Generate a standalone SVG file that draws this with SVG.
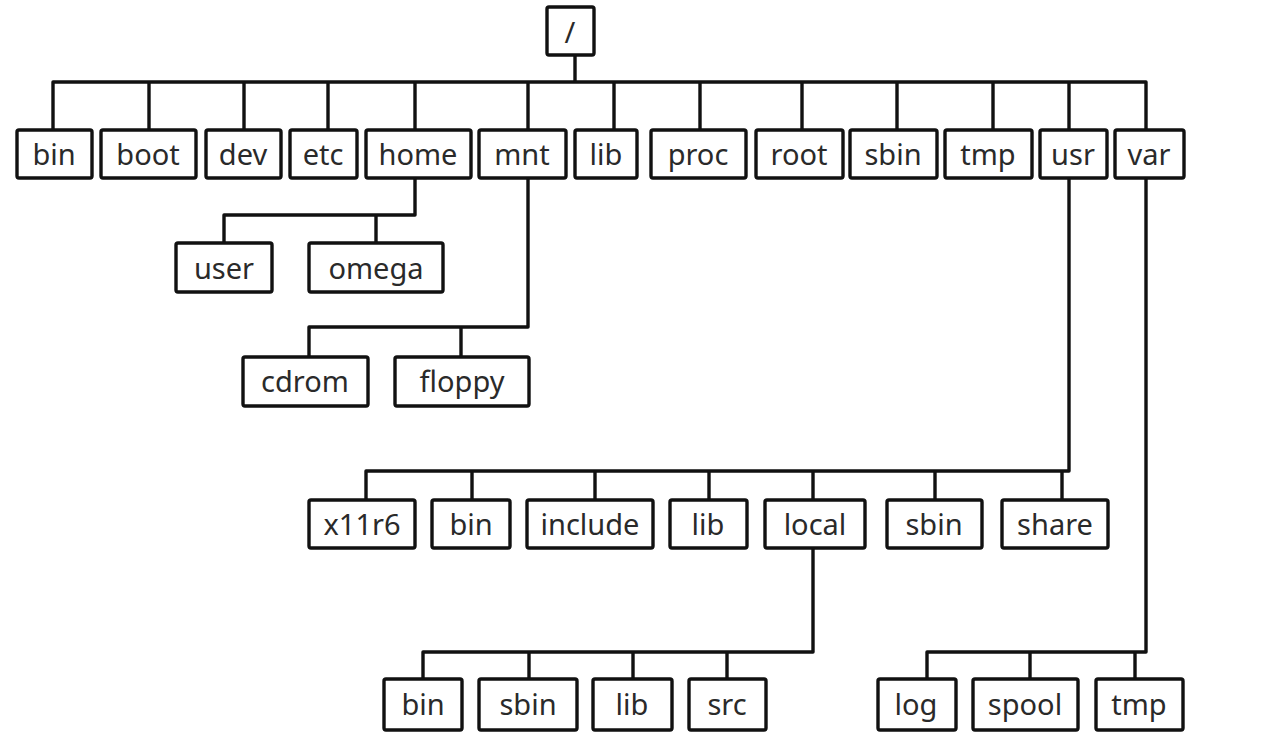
<svg xmlns="http://www.w3.org/2000/svg" width="1280" height="749" viewBox="0 0 1280 749">
<style>
.n rect{fill:#fff;stroke:#111;stroke-width:3.4;}
.n text{font-family:"Noto Sans","Open Sans","Liberation Sans",sans-serif;font-size:29px;fill:#2a2a2a;text-anchor:middle;}
#connectors path{fill:none;stroke:#111;stroke-width:3.4;stroke-linejoin:round;}
</style>
<rect width="1280" height="749" fill="#fff"/>
<g id="connectors">
<path d="M575 55V82M53 130V82H1146V130M149 82V130M244 82V130M328 82V130M415 82V130M528 82V130M614 82V130M700 82V130M802 82V130M897 82V130M993 82V130M1069 82V130"/>
<path d="M415 178V215H224V243M376 215V243"/>
<path d="M528 178V327H309V357M461 327V357"/>
<path d="M1069 178V471H366V500M472 471V500M595 471V500M709 471V500M813 471V500M935 471V500M1062 471V500"/>
<path d="M813 548V652H423V679M529 652V679M633 652V679M727 652V679"/>
<path d="M1146 178V652H927V679M1030 652V679M1135 652V679"/>
</g>
<g id="root" class="n"><rect x="547" y="7" width="47" height="48" rx="2"/><text x="570" y="43">/</text></g>
<g id="bin" class="n"><rect x="17" y="130" width="75" height="48" rx="2"/><text x="54" y="165">bin</text></g>
<g id="boot" class="n"><rect x="101" y="130" width="95" height="48" rx="2"/><text x="148" y="165">boot</text></g>
<g id="dev" class="n"><rect x="206" y="130" width="75" height="48" rx="2"/><text x="243" y="165">dev</text></g>
<g id="etc" class="n"><rect x="290" y="130" width="67" height="48" rx="2"/><text x="323" y="165">etc</text></g>
<g id="home" class="n"><rect x="366" y="130" width="105" height="48" rx="2"/><text x="418" y="165">home</text></g>
<g id="mnt" class="n"><rect x="479" y="130" width="87" height="48" rx="2"/><text x="522" y="165">mnt</text></g>
<g id="lib" class="n"><rect x="575" y="130" width="62" height="48" rx="2"/><text x="606" y="165">lib</text></g>
<g id="proc" class="n"><rect x="651" y="130" width="95" height="48" rx="2"/><text x="698" y="165">proc</text></g>
<g id="rootdir" class="n"><rect x="756" y="130" width="87" height="48" rx="2"/><text x="799" y="165">root</text></g>
<g id="sbin" class="n"><rect x="850" y="130" width="87" height="48" rx="2"/><text x="893" y="165">sbin</text></g>
<g id="tmp" class="n"><rect x="945" y="130" width="87" height="48" rx="2"/><text x="988" y="165">tmp</text></g>
<g id="usr" class="n"><rect x="1040" y="130" width="67" height="48" rx="2"/><text x="1073" y="165">usr</text></g>
<g id="var" class="n"><rect x="1115" y="130" width="69" height="48" rx="2"/><text x="1149" y="165">var</text></g>
<g id="user" class="n"><rect x="176" y="243" width="96" height="49" rx="2"/><text x="224" y="279">user</text></g>
<g id="omega" class="n"><rect x="309" y="243" width="134" height="49" rx="2"/><text x="376" y="279">omega</text></g>
<g id="cdrom" class="n"><rect x="243" y="357" width="125" height="49" rx="2"/><text x="305" y="392">cdrom</text></g>
<g id="floppy" class="n"><rect x="395" y="357" width="134" height="49" rx="2"/><text x="462" y="392">floppy</text></g>
<g id="x11r6" class="n"><rect x="309" y="500" width="106" height="48" rx="2"/><text x="362" y="535">x11r6</text></g>
<g id="usr-bin" class="n"><rect x="432" y="500" width="78" height="48" rx="2"/><text x="471" y="535">bin</text></g>
<g id="include" class="n"><rect x="527" y="500" width="126" height="48" rx="2"/><text x="590" y="535">include</text></g>
<g id="usr-lib" class="n"><rect x="670" y="500" width="77" height="48" rx="2"/><text x="708" y="535">lib</text></g>
<g id="local" class="n"><rect x="765" y="500" width="100" height="48" rx="2"/><text x="815" y="535">local</text></g>
<g id="usr-sbin" class="n"><rect x="887" y="500" width="95" height="48" rx="2"/><text x="934" y="535">sbin</text></g>
<g id="share" class="n"><rect x="1002" y="500" width="106" height="48" rx="2"/><text x="1055" y="535">share</text></g>
<g id="local-bin" class="n"><rect x="384" y="679" width="78" height="51" rx="2"/><text x="423" y="715">bin</text></g>
<g id="local-sbin" class="n"><rect x="479" y="679" width="98" height="51" rx="2"/><text x="528" y="715">sbin</text></g>
<g id="local-lib" class="n"><rect x="593" y="679" width="79" height="51" rx="2"/><text x="632" y="715">lib</text></g>
<g id="src" class="n"><rect x="689" y="679" width="77" height="51" rx="2"/><text x="727" y="715">src</text></g>
<g id="log" class="n"><rect x="878" y="679" width="78" height="51" rx="2"/><text x="916" y="715">log</text></g>
<g id="spool" class="n"><rect x="973" y="679" width="105" height="51" rx="2"/><text x="1025" y="715">spool</text></g>
<g id="var-tmp" class="n"><rect x="1096" y="679" width="87" height="51" rx="2"/><text x="1139" y="715">tmp</text></g>
</svg>
